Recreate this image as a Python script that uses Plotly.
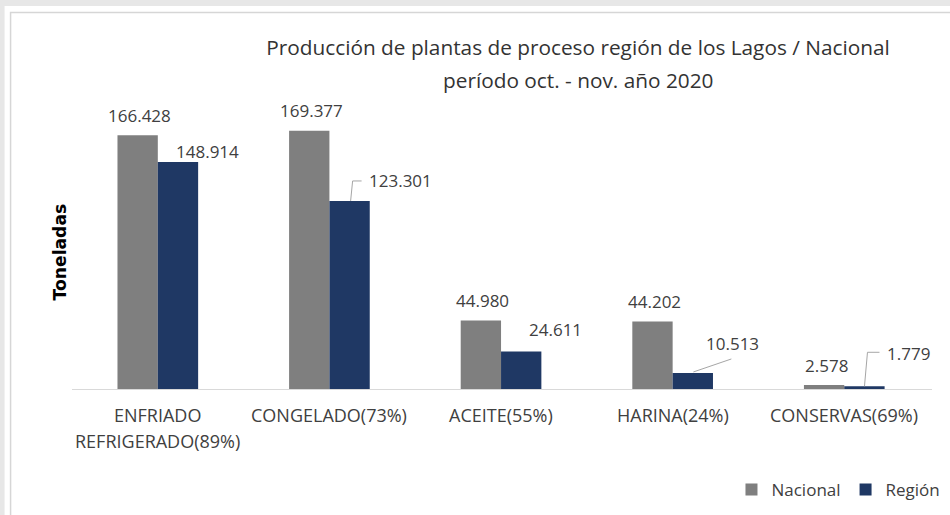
import plotly.graph_objects as go

# ---------------- data ----------------
categories = ["ENFRIADO REFRIGERADO(89%)", "CONGELADO(73%)", "ACEITE(55%)",
              "HARINA(24%)", "CONSERVAS(69%)"]
tick_lines = [["ENFRIADO", "REFRIGERADO(89%)"], ["CONGELADO(73%)"], ["ACEITE(55%)"],
              ["HARINA(24%)"], ["CONSERVAS(69%)"]]
nacional = [166428, 169377, 44980, 44202, 2578]
region = [148914, 123301, 24611, 10513, 1779]
series_names = ["Nacional", "Región"]
title_lines = ["Producción de plantas de proceso región de los Lagos / Nacional",
               "período oct. - nov. año 2020"]
y_title = "Toneladas"

# ---------------- style ----------------
C_NAC = "#7f7f7f"
C_REG = "#1f3864"
TXT = "#404040"
FONT = "Open Sans"
W, H = 950, 515
ML, MR, MT, MB = 71.5, 17.5, 100, 126
PLOT_W = W - ML - MR
PLOT_H = H - MT - MB
BARGAP = 0.53
YMAX = 189500

step = PLOT_W / len(categories)
bar_w = (1 - BARGAP) * step / 2  # px
off = bar_w / 2

# label offsets for Región (px from bar-top centre) and leader paths (px)
reg_dx = [29, 51, 34, 39.5, 44]
reg_dy = [10, 20, 22, 29, 33]
leaders = [None, "M 1 0 L 3 20 L 12 20", None, "M 0.5 1 L 38.5 14", "M 0 0 L 3 34 L 15 34"]

def fmt(v):
    return f"{v:,}".replace(",", ".")

fig = go.Figure()
fig.add_trace(go.Bar(x=categories, y=nacional, name=series_names[0],
                     marker=dict(color=C_NAC, line=dict(width=0))))
fig.add_trace(go.Bar(x=categories, y=region, name=series_names[1],
                     marker=dict(color=C_REG, line=dict(width=0))))

annotations = []
shapes = []

def px_x(p):
    return (p - ML) / PLOT_W

def px_y(p):
    return (H - MB - p) / PLOT_H

# page frame
shapes.append(dict(type="rect", xref="paper", yref="paper", layer="below",
                   x0=px_x(4), x1=px_x(W + 10), y0=px_y(6), y1=px_y(H + 10),
                   fillcolor="white", line=dict(width=0)))
shapes.append(dict(type="rect", xref="paper", yref="paper", layer="below",
                   x0=px_x(10), x1=px_x(W + 10), y0=px_y(12.5), y1=px_y(H + 10),
                   fillcolor="rgba(0,0,0,0)", line=dict(color="#d6d6d6", width=1.5)))

for i, cat in enumerate(categories):
    annotations.append(dict(x=cat, y=nacional[i], xref="x", yref="y",
                            text=fmt(nacional[i]), showarrow=False,
                            xshift=-off + 2, yshift=20, yanchor="middle",
                            font=dict(family=FONT, size=17, color=TXT)))
    annotations.append(dict(x=cat, y=region[i], xref="x", yref="y",
                            text=fmt(region[i]), showarrow=False,
                            xshift=off + reg_dx[i], yshift=reg_dy[i], yanchor="middle",
                            font=dict(family=FONT, size=17, color=TXT)))
    if leaders[i]:
        pts = leaders[i].split()
        out = []
        k = 0
        while k < len(pts):
            cmd = pts[k]
            xv = float(pts[k + 1]) + off
            yv = float(pts[k + 2])
            out.append(f"{cmd} {xv:.1f},{yv:.1f}")
            k += 3
        shapes.append(dict(type="path", xref="x", yref="y",
                           xsizemode="pixel", ysizemode="pixel",
                           xanchor=i, yanchor=region[i],
                           path=" ".join(out),
                           line=dict(color="#a6a6a6", width=1)))
    for k, line in enumerate(tick_lines[i]):
        annotations.append(dict(x=cat, y=0, xref="x", yref="paper",
                                text=line, showarrow=False, yanchor="middle",
                                yshift=-(26 + 26 * k),
                                font=dict(family=FONT, size=18, color=TXT)))

annotations.append(dict(x=px_x(578), y=px_y(80), xref="paper", yref="paper",
                        text=title_lines[1], showarrow=False,
                        xanchor="center", yanchor="middle",
                        font=dict(family=FONT, size=20.8, color="#333333")))
annotations.append(dict(x=px_x(59), y=px_y(252), xref="paper", yref="paper",
                        text=f"<b>{y_title}</b>", showarrow=False, textangle=-90,
                        xanchor="center", yanchor="middle",
                        font=dict(family="DejaVu Sans", size=17.2, color="#000000")))

fig.update_layout(
    width=W, height=H,
    margin=dict(l=ML, r=MR, t=MT, b=MB, autoexpand=False),
    paper_bgcolor="#e7e7e7",
    plot_bgcolor="rgba(0,0,0,0)",
    barmode="group", bargap=BARGAP, bargroupgap=0,
    title=dict(text=title_lines[0], x=578 / W, xanchor="center",
               y=1 - 48 / H, yanchor="middle", yref="container",
               font=dict(family=FONT, size=20.8, color="#333333")),
    xaxis=dict(showticklabels=False, showline=True, linecolor="#d9d9d9", linewidth=1,
               ticks="", showgrid=False, zeroline=False, fixedrange=True),
    yaxis=dict(range=[0, YMAX], showticklabels=False, showgrid=False, zeroline=False,
               showline=False, ticks=""),
    legend=dict(orientation="h", x=px_x(946), xanchor="right", y=px_y(490), yanchor="middle",
                font=dict(family=FONT, size=17, color=TXT), bgcolor="rgba(0,0,0,0)",
                itemwidth=30, traceorder="normal"),
    annotations=annotations,
    shapes=shapes,
    showlegend=True,
)

fig.write_html("out.html", config={"displayModeBar": False},
               post_script="document.body.style.margin='0';"
                           "document.body.style.overflow='hidden';"
                           "document.documentElement.style.overflow='hidden';")
